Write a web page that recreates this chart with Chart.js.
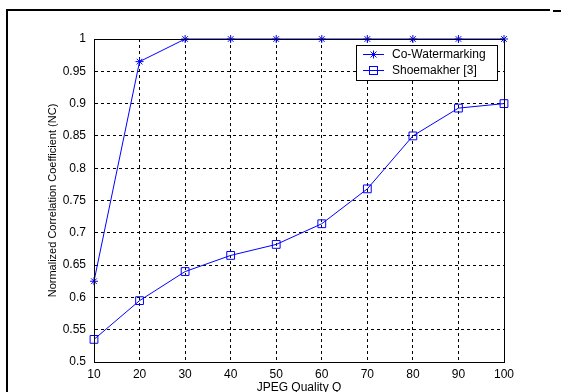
<!DOCTYPE html>
<html lang="en">
<head>
    <meta charset="UTF-8">
    <title>NC vs JPEG Quality</title>
    <script src="https://cdn.jsdelivr.net/npm/chart.js"></script>
    <style>
        body { margin: 0; background: #fff; }
        #wrap { width: 561px; height: 392px; }
    </style>
</head>
<body>
    <div id="wrap"><canvas id="ncChart" width="561" height="392"></canvas></div>

    <script>
        // JPEG quality factors and NC values
        const quality = [10, 20, 30, 40, 50, 60, 70, 80, 90, 100];
        const coWatermarking = [0.625, 0.965, 1, 1, 1, 1, 1, 1, 1, 1];
        const shoemakher = [0.535, 0.595, 0.64, 0.665, 0.682, 0.714, 0.768, 0.85, 0.893, 0.9];
        const seriesNames = ['Co-Watermarking', 'Shoemakher [3]'];

        const blue = '#0000ff';
        const font = 'Liberation Sans, Arial, Helvetica, sans-serif';

        // outer figure frame + closed axes box + legend
        const decorations = {
            id: 'decorations',
            beforeDraw(chart) {
                const ctx = chart.ctx;
                ctx.save();
                ctx.strokeStyle = '#000';
                ctx.lineWidth = 2;
                ctx.beginPath();
                ctx.moveTo(6, 10);
                ctx.lineTo(550, 10);
                ctx.moveTo(7, 9);
                ctx.lineTo(7, 392);
                ctx.moveTo(553, 11);
                ctx.lineTo(561, 11);
                ctx.stroke();
                ctx.restore();
            },
            afterDatasetsDraw(chart) {
                const ctx = chart.ctx;
                const a = chart.chartArea;
                ctx.save();
                ctx.strokeStyle = '#000';
                ctx.lineWidth = 1;
                ctx.strokeRect(Math.round(a.left) + 0.5, Math.round(a.top) + 0.5,
                    Math.round(a.right - a.left), Math.round(a.bottom - a.top));

                // legend
                const lx = 356.5, ly = 45.5, lw = 141, lh = 35;
                ctx.fillStyle = '#fff';
                ctx.fillRect(lx, ly, lw, lh);
                ctx.strokeRect(lx, ly, lw, lh);
                ctx.font = '12px ' + font;
                ctx.textBaseline = 'middle';
                ctx.fillStyle = '#000';
                const rows = [54.5, 70.5];
                ctx.strokeStyle = blue;
                rows.forEach((y, i) => {
                    ctx.beginPath();
                    ctx.moveTo(363, y);
                    ctx.lineTo(384, y);
                    ctx.stroke();
                    const cx = 373.5;
                    if (i === 0) {
                        ctx.beginPath();
                        ctx.moveTo(cx - 4, y); ctx.lineTo(cx + 4, y);
                        ctx.moveTo(cx, y - 4); ctx.lineTo(cx, y + 4);
                        ctx.moveTo(cx - 3, y - 3); ctx.lineTo(cx + 3, y + 3);
                        ctx.moveTo(cx - 3, y + 3); ctx.lineTo(cx + 3, y - 3);
                        ctx.stroke();
                    } else {
                        ctx.strokeRect(cx - 4, y - 4, 8, 8);
                    }
                    ctx.fillText(seriesNames[i], 392, y);
                });
                ctx.restore();
            }
        };

        const ctx = document.getElementById('ncChart').getContext('2d');
        new Chart(ctx, {
            type: 'line',
            data: {
                datasets: [
                    {
                        label: seriesNames[0],
                        data: quality.map((q, i) => ({ x: q, y: coWatermarking[i] })),
                        borderColor: blue,
                        borderWidth: 1,
                        pointStyle: 'star',
                        pointRadius: 4,
                        pointBorderColor: blue,
                        pointBorderWidth: 1,
                        backgroundColor: 'transparent',
                        fill: false,
                        tension: 0,
                        clip: false
                    },
                    {
                        label: seriesNames[1],
                        data: quality.map((q, i) => ({ x: q, y: shoemakher[i] })),
                        borderColor: blue,
                        borderWidth: 1,
                        pointStyle: 'rect',
                        pointRadius: 5.5,
                        pointBorderColor: blue,
                        pointBorderWidth: 1,
                        pointBackgroundColor: 'transparent',
                        backgroundColor: 'transparent',
                        fill: false,
                        tension: 0,
                        clip: false
                    }
                ]
            },
            options: {
                responsive: false,
                animation: false,
                events: [],
                layout: { padding: { left: 40, top: 39, right: 57, bottom: 0 } },
                plugins: {
                    legend: { display: false },
                    tooltip: { enabled: false }
                },
                scales: {
                    x: {
                        type: 'linear',
                        min: 10,
                        max: 100,
                        afterFit: (s) => { s.height = 30; },
                        ticks: {
                            stepSize: 10,
                            padding: 5,
                            color: '#000',
                            font: { family: font, size: 12 }
                        },
                        grid: { color: '#000', lineWidth: 1, drawTicks: false },
                        border: { display: true, color: '#000', width: 1, dash: [3, 3] },
                        title: {
                            display: true,
                            text: 'JPEG Quality Q',
                            color: '#000',
                            font: { family: font, size: 12 },
                            padding: { top: 0, bottom: -3 }
                        }
                    },
                    y: {
                        min: 0.5,
                        max: 1,
                        afterFit: (s) => { s.width = 54; },
                        ticks: {
                            stepSize: 0.05,
                            padding: 8,
                            color: '#000',
                            font: { family: font, size: 12 },
                            callback: (v) => String(Number(v.toFixed(2)))
                        },
                        grid: { color: '#000', lineWidth: 1, drawTicks: false },
                        border: { display: true, color: '#000', width: 1, dash: [3, 3] },
                        title: {
                            display: true,
                            text: 'Normalized Correlation Coefficient (NC)',
                            color: '#000',
                            font: { family: font, size: 11 },
                            padding: { top: 6, bottom: 0 }
                        }
                    }
                }
            },
            plugins: [decorations]
        });
    </script>
</body>
</html>
